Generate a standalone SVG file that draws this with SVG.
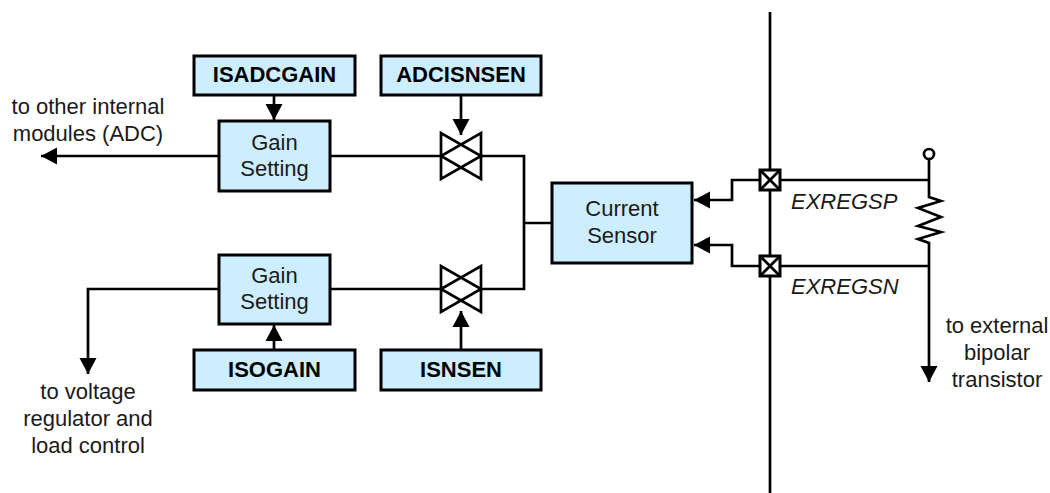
<svg xmlns="http://www.w3.org/2000/svg" width="1050" height="493" viewBox="0 0 1050 493">
<style>
text{font-family:"Liberation Sans",Arial,sans-serif;font-size:22px;fill:#1a1a1a;text-anchor:middle}
.b{font-weight:bold;fill:#000}
.i{font-style:italic;text-anchor:start}
.box{fill:#cceeff;stroke:#000;stroke-width:3}
.ln{fill:none;stroke:#000;stroke-width:2.7;stroke-linejoin:miter}
.sw{fill:none;stroke:#000;stroke-width:2.7;stroke-linejoin:miter}
.pad{fill:#fff;stroke:#000;stroke-width:3}
</style>
<defs>
<marker id="a" markerUnits="userSpaceOnUse" markerWidth="17" markerHeight="18" refX="16" refY="9" orient="auto"><path d="M0 0.500L16 9L0 17.500z" fill="#000"/></marker>
</defs>
<g id="connectors">
<path class="ln" d="M770 12V493"/>
<path class="ln" d="M219 156H41" marker-end="url(#a)"/>
<path class="ln" d="M219 289H88V374" marker-end="url(#a)"/>
<path class="ln" d="M274 95V120" marker-end="url(#a)"/>
<path class="ln" d="M274 350V325" marker-end="url(#a)"/>
<path class="ln" d="M461 95V135" marker-end="url(#a)"/>
<path class="ln" d="M461 350V311" marker-end="url(#a)"/>
<path class="ln" d="M330 156H441M481 156H524V289H481M441 289H330M524 223H552"/>
<path class="ln" d="M760 180H732V200H694" marker-end="url(#a)"/>
<path class="ln" d="M760 266H732V245H694" marker-end="url(#a)"/>
<path class="ln" d="M780 180H929M780 266H929"/>
<path class="ln" d="M929 160V197L941 201L918 208L941 217L918 226L941 232L918 239L929 243V382" marker-end="url(#a)"/>
</g>
<g id="terminal"><circle cx="929" cy="154" r="5" fill="#fff" stroke="#000" stroke-width="2.7"/></g>
<g id="isadcgain"><rect class="box" x="194" y="56" width="161" height="39"/><text class="b" x="274.500" y="82">ISADCGAIN</text></g>
<g id="adcisnsen"><rect class="box" x="381" y="56" width="160" height="39"/><text class="b" x="461" y="82">ADCISNSEN</text></g>
<g id="gain1"><rect class="box" x="219" y="121" width="111" height="70"/><text x="274.500" y="150">Gain</text><text x="274.500" y="176">Setting</text></g>
<g id="gain2"><rect class="box" x="219" y="255" width="111" height="69"/><text x="274.500" y="283">Gain</text><text x="274.500" y="309">Setting</text></g>
<g id="isogain"><rect class="box" x="194" y="350" width="161" height="40"/><text class="b" x="274.500" y="377">ISOGAIN</text></g>
<g id="isnsen"><rect class="box" x="381" y="350" width="160" height="40"/><text class="b" x="461" y="377">ISNSEN</text></g>
<g id="switch1"><path class="sw" d="M441 133V179L481 156ZM481 133V179L441 156Z"/></g>
<g id="switch2"><path class="sw" d="M441 266V312L481 289ZM481 266V312L441 289Z"/></g>
<g id="sensor"><rect class="box" x="552" y="183" width="140" height="80"/><text x="622" y="216">Current</text><text x="622" y="243">Sensor</text></g>
<g id="pad1"><rect class="pad" x="760" y="170" width="20" height="20"/><path class="ln" d="M760 170L780 190M780 170L760 190"/></g>
<g id="pad2"><rect class="pad" x="760" y="256" width="20" height="20"/><path class="ln" d="M760 256L780 276M780 256L760 276"/></g>
<g id="labels">
<text x="88" y="114">to other internal</text><text x="88" y="141">modules (ADC)</text>
<text x="88" y="399">to voltage</text><text x="88" y="426">regulator and</text><text x="88" y="453">load control</text>
<text class="i" x="791" y="209">EXREGSP</text><text class="i" x="791" y="294">EXREGSN</text>
<text x="997" y="333">to external</text><text x="997" y="360">bipolar</text><text x="997" y="387">transistor</text>
</g>
</svg>
